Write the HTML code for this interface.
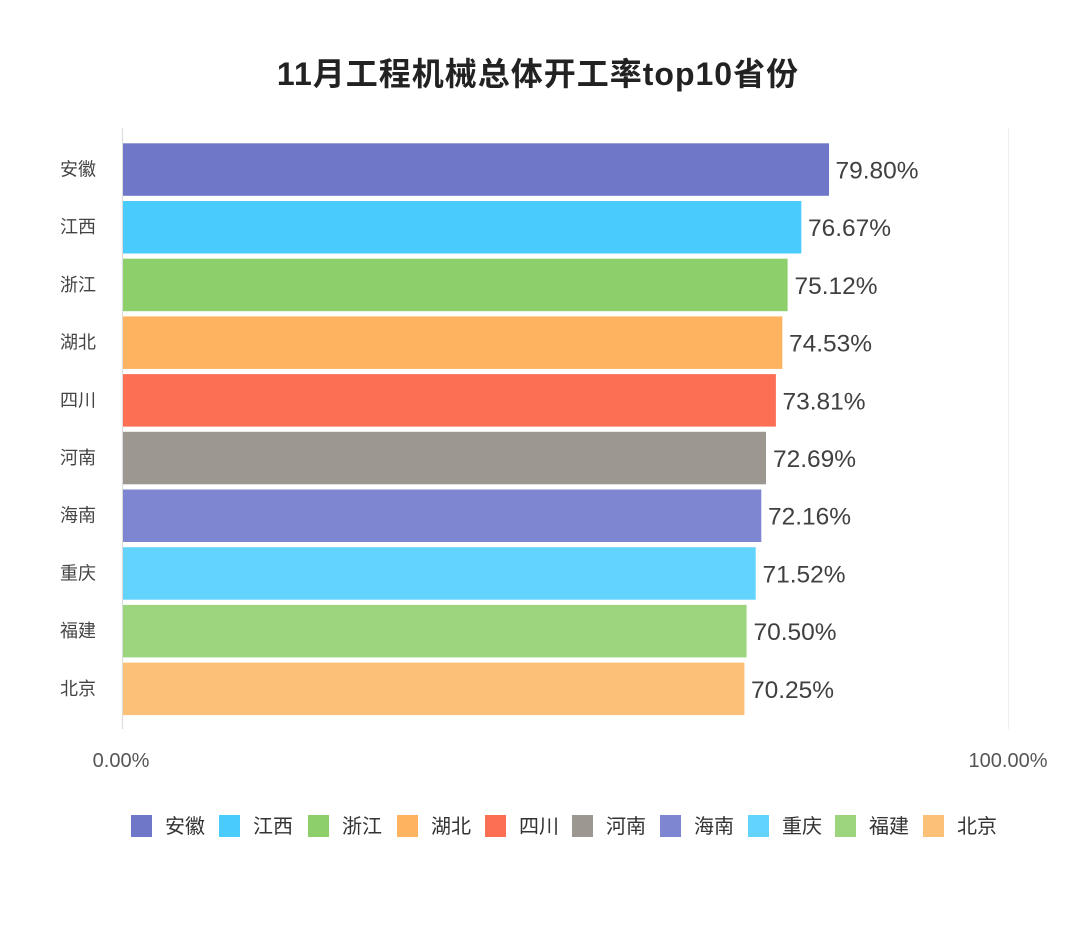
<!DOCTYPE html>
<html><head><meta charset="utf-8"><style>
html,body{margin:0;padding:0;background:#fff;}
svg{display:block;}
text{font-family:"Liberation Sans","Noto Sans CJK SC",sans-serif;}
</style></head><body>
<svg width="1080" height="930" viewBox="0 0 1080 930" xmlns="http://www.w3.org/2000/svg">
<rect width="1080" height="930" fill="#fff"/>
<text x="538" y="85" text-anchor="middle" font-size="32" font-weight="bold" letter-spacing="1" fill="#222">11月工程机械总体开工率top10省份</text>
<line x1="122.5" y1="128" x2="122.5" y2="729" stroke="#dcdcdc" stroke-width="1.2"/>
<line x1="1008.5" y1="128" x2="1008.5" y2="729" stroke="#eeeeee" stroke-width="1.2"/>
<g>
<rect x="123" y="143.3" width="706" height="52.5" fill="#6f78c8"/>
<rect x="123" y="201.0" width="678.3" height="52.5" fill="#4acbfd"/>
<rect x="123" y="258.7" width="664.6" height="52.5" fill="#8dcf6a"/>
<rect x="123" y="316.4" width="659.3" height="52.5" fill="#fdb35f"/>
<rect x="123" y="374.1" width="652.9" height="52.5" fill="#fd6f55"/>
<rect x="123" y="431.8" width="643.0" height="52.5" fill="#9c9891"/>
<rect x="123" y="489.5" width="638.3" height="52.5" fill="#7e86d1"/>
<rect x="123" y="547.2" width="632.7" height="52.5" fill="#62d3fd"/>
<rect x="123" y="604.9" width="623.6" height="52.5" fill="#9dd57e"/>
<rect x="123" y="662.6" width="621.4" height="52.5" fill="#fdc078"/>
</g>
<g font-size="24.5" fill="#404040">
<text x="835.5" y="178.5">79.80%</text>
<text x="808" y="236.2">76.67%</text>
<text x="794.5" y="293.9">75.12%</text>
<text x="789" y="351.6">74.53%</text>
<text x="782.5" y="409.3">73.81%</text>
<text x="773" y="467">72.69%</text>
<text x="768" y="524.7">72.16%</text>
<text x="762.5" y="582.4">71.52%</text>
<text x="753.5" y="640.1">70.50%</text>
<text x="751" y="697.8">70.25%</text>
</g>
<g font-size="18" fill="#444" text-anchor="end">
<text x="96" y="175.5">安徽</text>
<text x="96" y="233.2">江西</text>
<text x="96" y="290.9">浙江</text>
<text x="96" y="348.6">湖北</text>
<text x="96" y="406.3">四川</text>
<text x="96" y="464.0">河南</text>
<text x="96" y="521.7">海南</text>
<text x="96" y="579.4">重庆</text>
<text x="96" y="637.1">福建</text>
<text x="96" y="694.8">北京</text>
</g>
<g font-size="20" fill="#555" text-anchor="middle">
<text x="121" y="767">0.00%</text>
<text x="1008" y="767">100.00%</text>
</g>
<g font-size="20" fill="#333">
<rect x="131" y="815" width="21" height="22" fill="#6f78c8"/><text x="165" y="833">安徽</text>
<rect x="219" y="815" width="21" height="22" fill="#4acbfd"/><text x="253" y="833">江西</text>
<rect x="308" y="815" width="21" height="22" fill="#8dcf6a"/><text x="342" y="833">浙江</text>
<rect x="397" y="815" width="21" height="22" fill="#fdb35f"/><text x="431" y="833">湖北</text>
<rect x="485" y="815" width="21" height="22" fill="#fd6f55"/><text x="519" y="833">四川</text>
<rect x="572" y="815" width="21" height="22" fill="#9c9891"/><text x="606" y="833">河南</text>
<rect x="660" y="815" width="21" height="22" fill="#7e86d1"/><text x="694" y="833">海南</text>
<rect x="748" y="815" width="21" height="22" fill="#62d3fd"/><text x="782" y="833">重庆</text>
<rect x="835" y="815" width="21" height="22" fill="#9dd57e"/><text x="869" y="833">福建</text>
<rect x="923" y="815" width="21" height="22" fill="#fdc078"/><text x="957" y="833">北京</text>
</g>
</svg>
</body></html>
